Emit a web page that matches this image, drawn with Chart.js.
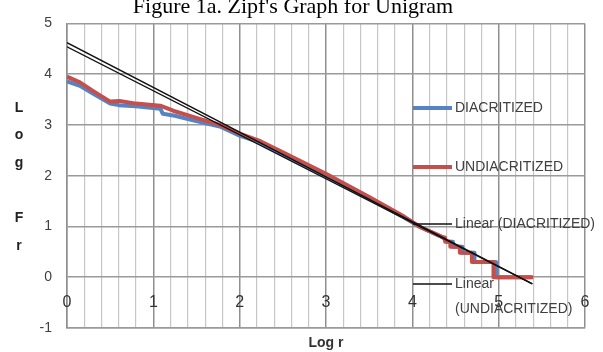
<!DOCTYPE html>
<html>
<head>
<meta charset="utf-8">
<script src="https://cdn.jsdelivr.net/npm/chart.js@4"></script>
<style>
	html, body { margin: 0; padding: 0; background: #fff; }
	canvas { display: block; }
</style>
</head>
<body>
<canvas id="zipf" width="603" height="352"></canvas>
<script>
const chartTitle = "Figure 1a. Zipf's Graph for Unigram";
const xTitle = "Log r";
const yTitleLetters = ["L", "o", "g", "", "F", "r"];

const xTicks = [0, 1, 2, 3, 4, 5, 6];
const xTickLabels = ["0", "1", "2", "3", "4", "5", "6"];

const diacritizedX = [0, 0.15, 0.27, 0.5, 0.6, 0.8, 1.08, 1.11, 1.25, 1.46,
	1.77, 2.0, 2.24, 2.5, 3.0, 3.5, 3.9, 4.1, 4.32, 4.36,
	4.40, 4.47, 4.47, 4.58, 4.58, 4.72, 4.72, 4.97, 4.97, 5.38];
const diacritizedY = [3.86, 3.77, 3.65, 3.42, 3.39, 3.37, 3.32, 3.22, 3.18, 3.09,
	2.97, 2.79, 2.65, 2.42, 2.0, 1.55, 1.18, 0.98, 0.81, 0.77,
	0.70, 0.70, 0.60, 0.60, 0.48, 0.48, 0.30, 0.30, 0, 0];

const undiacritizedX = [0, 0.15, 0.3, 0.5, 0.61, 0.8, 1.08, 1.23, 1.46, 1.77,
	2.0, 2.24, 2.5, 3.0, 3.5, 3.9, 4.09, 4.34, 4.38, 4.38,
	4.44, 4.44, 4.55, 4.55, 4.69, 4.69, 4.94, 4.94, 5.40];
const undiacritizedY = [3.95, 3.84, 3.67, 3.46, 3.47, 3.42, 3.38, 3.28, 3.16, 3.0,
	2.83, 2.68, 2.46, 2.04, 1.58, 1.2, 0.99, 0.80, 0.78, 0.70,
	0.70, 0.60, 0.60, 0.48, 0.48, 0.30, 0.30, 0, 0];

const trendX = [0, 5.39];
const trendDiacritizedY = [4.62, -0.13];
const trendUndiacritizedY = [4.54, -0.13];

const BLUE = "#5683c3";
const RED = "#c4504d";
const TEXT = "#404040";

function points(xs, ys) {
	return xs.map((x, i) => ({ x: x, y: ys[i] }));
}

// legend is drawn by hand, Excel puts it over the plot
const legendItems = [
	{ lines: ["DIACRITIZED"], color: BLUE, width: 4, y: 108 },
	{ lines: ["UNDIACRITIZED"], color: RED, width: 4, y: 167 },
	{ lines: ["Linear (DIACRITIZED)"], color: "#111", width: 1.5, y: 224 },
	{ lines: ["Linear", "(UNDIACRITIZED)"], color: "#111", width: 1.5, y: 284 },
];

const overlay = {
	id: "overlay",
	afterDraw(chart) {
		const { ctx } = chart;
		const xs = chart.scales.x;
		const ys = chart.scales.y;
		ctx.save();

		ctx.font = "22px 'Liberation Serif'";
		ctx.fillStyle = "#000";
		ctx.textAlign = "center";
		ctx.textBaseline = "alphabetic";
		ctx.fillText(chartTitle, 293, 13);

		// x labels sit inside the plot, under the y = 0 line
		ctx.font = "16px 'Liberation Sans'";
		ctx.fillStyle = "#333";
		ctx.textBaseline = "middle";
		const labelY = ys.getPixelForValue(-0.5);
		xTicks.forEach((v, i) => {
			ctx.fillText(xTickLabels[i], xs.getPixelForValue(v), labelY);
		});

		ctx.font = "bold 14px 'Liberation Sans'";
		ctx.fillStyle = "#222";
		yTitleLetters.forEach((ch, i) => {
			ctx.fillText(ch, 19, 108 + i * 27.6);
		});

		ctx.font = "14px 'Liberation Sans'";
		ctx.textAlign = "left";
		legendItems.forEach((item) => {
			ctx.strokeStyle = item.color;
			ctx.lineWidth = item.width;
			ctx.beginPath();
			ctx.moveTo(413, item.y);
			ctx.lineTo(452, item.y);
			ctx.stroke();
			ctx.fillStyle = TEXT;
			item.lines.forEach((t, j) => {
				ctx.fillText(t, 455, item.y + j * 25);
			});
		});
		ctx.restore();
	},
};

new Chart(document.getElementById("zipf").getContext("2d"), {
	type: "line",
	data: {
		datasets: [
			{
				label: "Linear (DIACRITIZED)",
				data: points(trendX, trendDiacritizedY),
				borderColor: "#111",
				borderWidth: 1.4,
				order: 0,
			},
			{
				label: "Linear (UNDIACRITIZED)",
				data: points(trendX, trendUndiacritizedY),
				borderColor: "#111",
				borderWidth: 1.4,
				order: 0,
			},
			{
				label: "UNDIACRITIZED",
				data: points(undiacritizedX, undiacritizedY),
				borderColor: RED,
				borderWidth: 4,
				order: 1,
			},
			{
				label: "DIACRITIZED",
				data: points(diacritizedX, diacritizedY),
				borderColor: BLUE,
				borderWidth: 4,
				order: 2,
			},
		],
	},
	options: {
		responsive: false,
		animation: false,
		events: [],
		layout: { padding: { top: 19, right: 18, left: 0, bottom: 0 } },
		elements: {
			point: { radius: 0 },
			line: { tension: 0, borderJoinStyle: "round", fill: false },
		},
		plugins: {
			legend: { display: false },
			title: { display: false },
			tooltip: { enabled: false },
		},
		scales: {
			x: {
				type: "linear",
				min: 0,
				max: 6,
				ticks: { stepSize: 0.2, display: false },
				grid: {
					drawTicks: false,
					color: (c) => (Math.abs(c.tick.value - Math.round(c.tick.value)) < 1e-6 ? "#8f8f8f" : "#c6c6c6"),
					lineWidth: (c) => (Math.abs(c.tick.value - Math.round(c.tick.value)) < 1e-6 ? 1.5 : 1.2),
				},
				border: { color: "#9a9a9a", width: 1.5 },
				title: {
					display: true,
					text: xTitle,
					color: "#333",
					font: { family: "'Liberation Sans'", size: 14, weight: "bold" },
					padding: { top: 0, bottom: 0 },
				},
				afterFit: (s) => { s.height = 24; },
			},
			y: {
				min: -1,
				max: 5,
				ticks: {
					stepSize: 1,
					padding: 15,
					color: TEXT,
					font: { family: "'Liberation Sans'", size: 14 },
				},
				grid: { drawTicks: false, color: "#9a9a9a", lineWidth: 1.5 },
				border: { color: "#8f8f8f", width: 1.5 },
				afterFit: (s) => { s.width = 67; },
			},
		},
	},
	plugins: [overlay],
});
</script>
</body>
</html>
